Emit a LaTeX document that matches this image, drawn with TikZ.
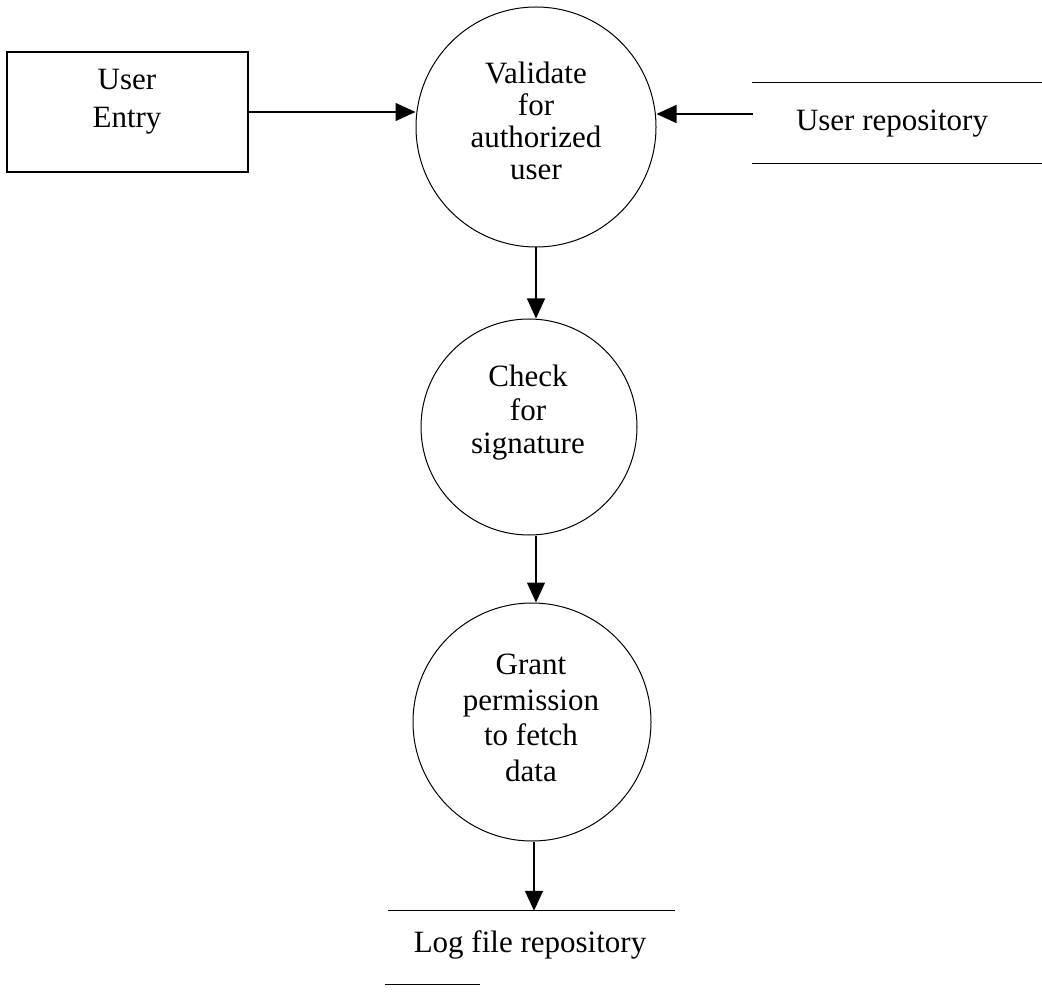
\documentclass[tikz,border=0pt]{standalone}
\usepackage{fontspec}
\setmainfont{Liberation Serif}
\usetikzlibrary{arrows.meta}

\tikzset{
  process/.style={draw, circle, line width=1pt, inner sep=0pt},
  entity/.style={draw, rectangle, line width=1.3pt, inner sep=0pt},
  storeslot/.style={rectangle, inner sep=0pt},
  storeline/.style={line width=1.3pt},
  txt/.style={inner sep=0pt, align=center, anchor=north},
  flow/.style={line width=1.4pt, -{Triangle[length=20pt, width=18pt]}},
}
\newcommand{\lsize}[1]{\fontsize{31pt}{#1}\selectfont}

\begin{document}
\begin{tikzpicture}[x=1pt, y=-1pt]
  \useasboundingbox (0,0) rectangle (1042,992);

  % external entity
  \node[entity, minimum width=241pt, minimum height=120pt] (entry) at (127.5,112) {};
  \node[txt, font=\lsize{38pt}] (entrytxt) at (127,69) {User\\Entry};

  % processes
  \node[process, minimum size=240pt] (c1) at (536,127) {};
  \node[txt, font=\lsize{32pt}] (c1txt) at (536,62) {Validate\\for\\authorized\\user};

  \node[process, minimum size=216pt] (c2) at (529,427) {};
  \node[txt, font=\lsize{33.5pt}] (c2txt) at (528,365) {Check\\for\\signature};

  \node[process, minimum size=238pt] (c3) at (532,722) {};
  \node[txt, font=\lsize{35.5pt}] (c3txt) at (531,654) {Grant\\permission\\to fetch\\data};

  % data stores
  \node[storeslot, minimum width=290pt, minimum height=80pt] (urepo) at (897,123) {};
  \draw[storeline] (urepo.north west) -- (urepo.north east);
  \draw[storeline] (urepo.south west) -- (urepo.south east);
  \node[inner sep=0pt, anchor=base, font=\lsize{35pt}] (urepotxt) at (892,131) {User repository};

  \node[storeslot, minimum width=287pt, minimum height=73pt] (lrepo) at (531.5,947.5) {};
  \draw[storeline] (lrepo.north west) -- (lrepo.north east);
  \draw[storeline] ([xshift=-3pt]lrepo.south west) -- ++(95,0);
  \node[inner sep=0pt, anchor=base, font=\lsize{35pt}] (lrepotxt) at (530,952) {Log file repository};

  % data flows
  \coordinate (urin) at (753,114);
  \draw[flow] (entry.east) -- (entry.east -| c1.west);
  \draw[flow] (urin) -- (urin -| c1.east);
  \draw[flow] (c1.south) -- (c1.south |- c2.north);
  \draw[flow] (c1.south |- c2.south) -- (c1.south |- c3.north);
  \draw[flow] ([xshift=2pt]c3.south) -- ([xshift=2pt]c3.south |- lrepo.north);
\end{tikzpicture}
\end{document}
